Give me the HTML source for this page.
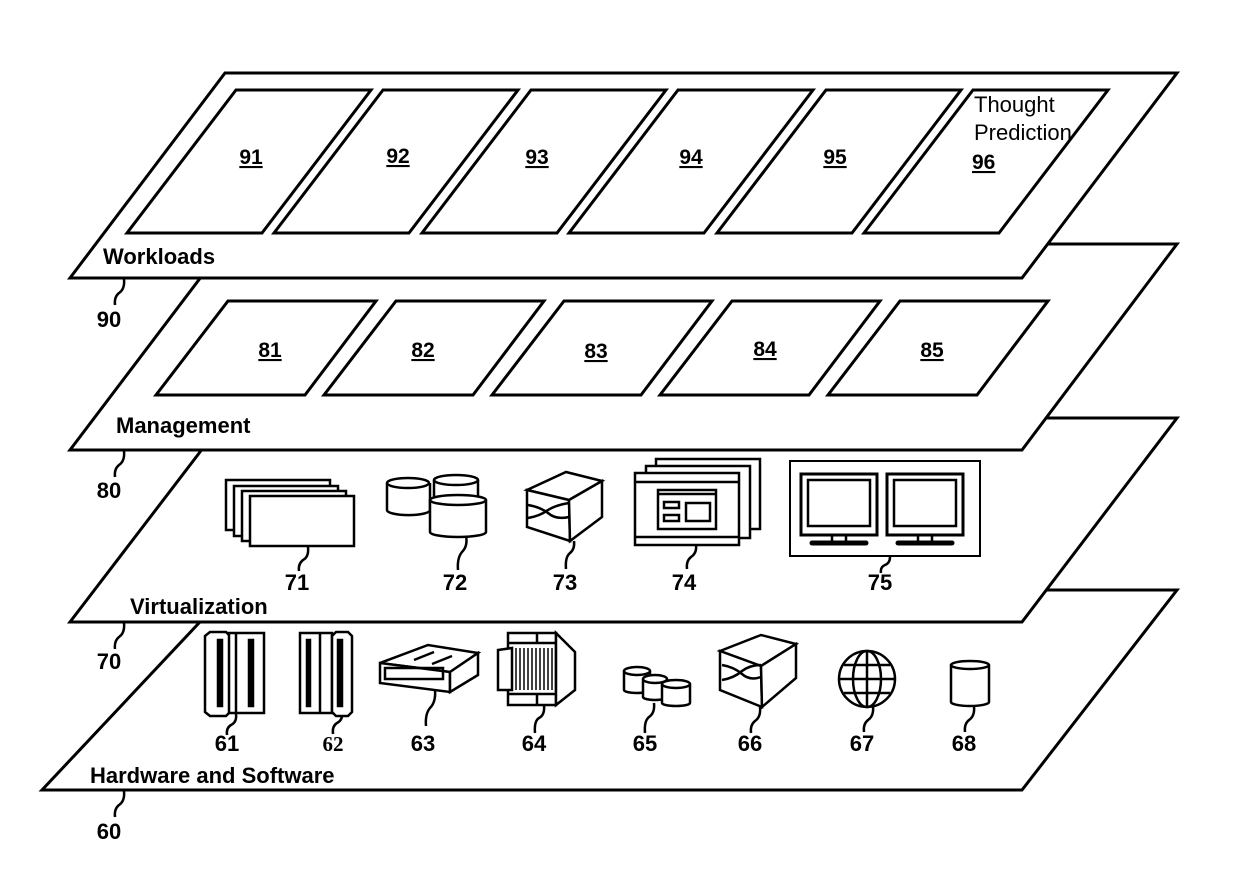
<!DOCTYPE html>
<html><head><meta charset="utf-8"><style>
html,body{margin:0;padding:0;background:#fff}
svg{display:block}
text{font-family:"Liberation Sans",Arial,sans-serif;font-weight:bold;fill:#000}
</style></head><body>
<svg width="1240" height="869" viewBox="0 0 1240 869" xmlns="http://www.w3.org/2000/svg">
<g fill="#fff" stroke="#000" stroke-width="3" stroke-linejoin="miter">
<polygon points="230,590 1177,590 1022,790 42,790"/>
<polygon points="226,418 1177,418 1022,622 70,622"/>
<polygon points="226,244 1177,244 1022,450 70,450"/>
<polygon points="225,73 1177,73 1022,278 70,278"/>
<polygon points="236,90 371,90 262,233 127,233"/>
<polygon points="383,90 518,90 409,233 274,233"/>
<polygon points="531,90 666,90 557,233 422,233"/>
<polygon points="678,90 813,90 704,233 569,233"/>
<polygon points="826,90 961,90 852,233 717,233"/>
<polygon points="973,90 1108,90 999,233 864,233"/>
<polygon points="228,301 376,301 305,395 156,395"/>
<polygon points="396,301 544,301 473,395 324,395"/>
<polygon points="564,301 712,301 641,395 492,395"/>
<polygon points="732,301 880,301 809,395 660,395"/>
<polygon points="900,301 1048,301 977,395 828,395"/>
</g>

<g fill="none" stroke="#000" stroke-width="2.5">
<path d="M124,279 q1,10 -5,14 q-5,4 -4,12"/>
<path d="M124,451 q1,10 -5,14 q-5,4 -4,12"/>
<path d="M124,623 q1,10 -5,14 q-5,4 -4,12"/>
<path d="M124,791 q1,10 -5,14 q-5,4 -4,12"/>
<path d="M308,547 q1,10 -5,13 q-5,4 -4,11"/>
<path d="M466,536 q2,10 -4,16 q-5,6 -4,18"/>
<path d="M574,541 q1,8 -4,12 q-5,4 -4,16"/>
<path d="M696,545 q1,8 -5,12 q-5,4 -4,12"/>
<path d="M890,557 q0,6 -5,8 q-5,2 -4,8"/>
<path d="M236,714 q1,8 -5,11 q-5,3 -4,10"/>
<path d="M342,712 q1,8 -5,11 q-5,3 -4,11"/>
<path d="M435,690 q1,12 -5,18 q-5,6 -4,18"/>
<path d="M544,705 q1,10 -5,13 q-5,3 -4,15"/>
<path d="M654,703 q1,10 -5,14 q-5,4 -4,16"/>
<path d="M760,707 q1,10 -5,14 q-5,4 -4,12"/>
<path d="M873,706 q1,10 -5,14 q-5,4 -4,12"/>
<path d="M974,706 q1,10 -5,14 q-5,4 -4,12"/>
</g>

<g fill="#fff" stroke="#000" stroke-width="2.5">
<rect x="226" y="480" width="104" height="50"/>
<rect x="234" y="486" width="104" height="50"/>
<rect x="242" y="491" width="104" height="50"/>
<rect x="250" y="496" width="104" height="50"/>
<path d="M387,483 v27 a21,5 0 0 0 43,0 v-27"/><ellipse cx="408" cy="483" rx="21" ry="5"/>
<path d="M434,480 v25 h44 v-25"/><ellipse cx="456" cy="480" rx="22" ry="5"/>
<path d="M430,500 v32 a28,5 0 0 0 56,0 v-32"/><ellipse cx="458" cy="500" rx="28" ry="5"/>
<polygon points="527,490 566,472 602,481 569,500"/>
<polygon points="527,490 569,500 570,541 527,527"/>
<polygon points="569,500 602,481 602,517 570,541"/>
<path d="M528,505 q12,2 20,8 q8,7 21,4 M528,518 q12,-2 20,-8 q8,-5 21,-7" fill="none"/>
<rect x="656" y="459" width="104" height="70"/>
<rect x="646" y="466" width="104" height="72"/>
<rect x="635" y="473" width="104" height="72"/>
<line x1="635" y1="482" x2="739" y2="482"/><line x1="635" y1="537" x2="739" y2="537"/>
<rect x="658" y="490" width="58" height="39"/>
<line x1="658" y1="494" x2="716" y2="494"/>
<rect x="664" y="502" width="15" height="6"/><rect x="664" y="515" width="15" height="6"/>
<rect x="686" y="503" width="24" height="18"/>
<rect x="790" y="461" width="190" height="95" stroke-width="2"/>
<rect x="801" y="474" width="76" height="61" stroke-width="3"/>
<rect x="808" y="480" width="62" height="46" stroke-width="2.5"/>
<rect x="887" y="474" width="76" height="61" stroke-width="3"/>
<rect x="894" y="480" width="62" height="46" stroke-width="2.5"/>
<path d="M832,535 v6 M846,535 v6 M918,535 v6 M932,535 v6" fill="none"/>
<line x1="812" y1="543" x2="866" y2="543" stroke-width="5" stroke-linecap="round"/>
<line x1="898" y1="543" x2="952" y2="543" stroke-width="5" stroke-linecap="round"/>
</g>

<g fill="#fff" stroke="#000" stroke-width="2.5">
<path d="M205,636 l5,-4 h16 l4,4 v76 l-4,4 h-16 l-5,-4 z"/>
<rect x="229" y="633" width="35" height="80"/>
<rect x="218" y="640" width="4" height="66" fill="#000"/>
<line x1="236" y1="633" x2="236" y2="713"/>
<rect x="249" y="640" width="4" height="66" fill="#000"/>
<rect x="300" y="633" width="32" height="80"/>
<line x1="320" y1="633" x2="320" y2="713"/>
<rect x="307" y="640" width="3" height="66" fill="#000"/>
<path d="M332,636 l4,-4 h12 l4,4 v76 l-4,4 h-12 l-4,-4 z"/>
<rect x="338" y="640" width="4" height="66" fill="#000"/>
<polygon points="380,663 428,645 478,653 450,672"/>
<path d="M380,663 l70,9 v20 l-70,-9 z"/>
<path d="M450,672 l28,-19 v22 l-28,17 z"/>
<rect x="385" y="668" width="58" height="11" fill="none"/>
<path d="M414,660 l20,-8 M432,664 l20,-8" fill="none"/>
<rect x="508" y="633" width="48" height="72"/>
<line x1="508" y1="643" x2="556" y2="643"/><line x1="508" y1="694" x2="556" y2="694"/>
<line x1="537" y1="633" x2="537" y2="643"/><line x1="537" y1="694" x2="537" y2="705"/>
<polygon points="556,633 568,645 575,652 575,690 556,705"/>
<polygon points="498,650 512,648 512,690 498,690"/>
<g stroke-width="1.5"><path d="M516,648 v42 M520,648 v42 M524,648 v42 M528,648 v42 M532,648 v42 M536,648 v42 M540,648 v42 M544,648 v42 M548,648 v42 M552,648 v42"/></g>
<path d="M624,671 v19 a13,3 0 0 0 26,0 v-19"/><ellipse cx="637" cy="671" rx="13" ry="4"/>
<path d="M643,679 v18 a12,3 0 0 0 24,0 v-18"/><ellipse cx="655" cy="679" rx="12" ry="4"/>
<path d="M662,684 v19 a14,3 0 0 0 28,0 v-19"/><ellipse cx="676" cy="684" rx="14" ry="4"/>
<polygon points="720,651 761,635 796,644 761,666"/>
<polygon points="720,651 761,666 762,707 720,690"/>
<polygon points="761,666 796,644 796,678 762,707"/>
<path d="M722,665 q12,2 20,9 q8,7 19,3 M722,680 q12,-2 20,-9 q8,-6 19,-6" fill="none"/>
<circle cx="867" cy="679" r="28"/>
<ellipse cx="867" cy="679" rx="14" ry="28" fill="none"/>
<path d="M867,651 v56 M839,679 h56 M844,665 h46 M844,693 h46" fill="none"/>
<path d="M951,665 v37 a19,4 0 0 0 38,0 v-37"/><ellipse cx="970" cy="665" rx="19" ry="4"/>
</g>

<g font-size="22">
<text x="103" y="264">Workloads</text>
<text x="116" y="433">Management</text>
<text x="130" y="614">Virtualization</text>
<text x="90" y="783">Hardware and Software</text>
</g>
<g font-size="22" text-anchor="middle">
<text x="109" y="327">90</text>
<text x="109" y="498">80</text>
<text x="109" y="669">70</text>
<text x="109" y="839">60</text>
<text x="297" y="590">71</text>
<text x="455" y="590">72</text>
<text x="565" y="590">73</text>
<text x="684" y="590">74</text>
<text x="880" y="590">75</text>
<text x="227" y="751">61</text>
<text x="423" y="751">63</text>
<text x="534" y="751">64</text>
<text x="645" y="751">65</text>
<text x="750" y="751">66</text>
<text x="862" y="751">67</text>
<text x="964" y="751">68</text>
</g>
<text x="333" y="751" font-size="21" text-anchor="middle" style="font-family:'Liberation Serif',serif">62</text>
<g font-size="21" text-anchor="middle" text-decoration="underline">
<text x="251" y="164">91</text>
<text x="398" y="163">92</text>
<text x="537" y="164">93</text>
<text x="691" y="164">94</text>
<text x="835" y="164">95</text>
<text x="270" y="357">81</text>
<text x="423" y="357">82</text>
<text x="596" y="358">83</text>
<text x="765" y="356">84</text>
<text x="932" y="357">85</text>
</g>
<text x="974" y="112" font-size="22" style="font-weight:normal">Thought</text>
<text x="974" y="140" font-size="22" style="font-weight:normal">Prediction</text>
<text x="972" y="169" font-size="21" text-decoration="underline">96</text>
</svg>
</body></html>
